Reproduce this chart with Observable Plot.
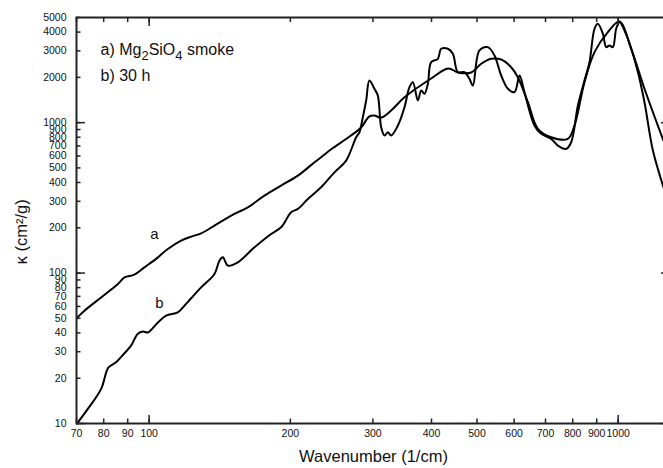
<!DOCTYPE html>
<html><head><meta charset="utf-8">
<script src="https://cdn.jsdelivr.net/npm/d3@7"></script>
<script src="https://cdn.jsdelivr.net/npm/@observablehq/plot@0.6"></script>
<style>
html,body{margin:0;padding:0;background:#fff;overflow:hidden;width:663px;height:468px;}
#chart svg{display:block;}
</style></head><body><div id="chart"></div>
<script>
// Curve a (upper at low wavenumber)
const waveA = [70.2, 72.8, 79.0, 85.8, 88.6, 93.0, 97.7, 104.4, 109.6, 117.0, 122.9, 129.1, 137.8, 152.0, 162.3, 176.1, 191.1, 207.6, 225.2, 232.6, 245.6, 265.7, 283.1, 294.5, 301.8, 312.4, 328.1, 349.8, 399.3, 434.0, 455.9, 485.9, 510.5, 536.2, 563.1, 591.4, 611.1, 642.0, 674.5, 719.7, 781.0, 807.0, 847.6, 890.4, 950.6, 1006, 1066, 1138, 1215, 1249];
const kappaA = [50.5, 56.2, 68.9, 84.6, 93.6, 97.6, 109.1, 127.2, 144.6, 164.3, 174.7, 183.7, 206.8, 247.4, 273.6, 327.3, 381.5, 444.6, 545.2, 588.8, 672.5, 795.9, 927.8, 1098, 1115, 1081, 1204, 1469, 1966, 2291, 2154, 2154, 2462, 2657, 2629, 2336, 2005, 1367, 909, 799.6, 780.2, 956.5, 1857, 2941, 3995, 4707, 3097, 1679, 956.5, 760];
// Curve b (30 h)
const waveB = [70.2, 74.0, 79.0, 81.9, 85.0, 88.4, 91.5, 94.6, 97.0, 99.4, 104.4, 108.7, 115.1, 118.9, 122.9, 129.1, 137.8, 141.2, 143.6, 147.2, 154.5, 167.7, 182.0, 191.1, 200.8, 207.6, 218.0, 232.6, 248.1, 263.0, 276.3, 280.8, 285.5, 290.2, 294.9, 302.2, 307.3, 312.4, 317.5, 322.8, 328.1, 339.1, 350.3, 358.9, 365.0, 374.1, 380.2, 386.4, 392.9, 399.3, 412.7, 419.4, 433.5, 444.2, 455.2, 470.2, 481.8, 490.0, 506.1, 527.4, 544.9, 563.1, 582.0, 601.2, 616.2, 631.2, 663.0, 685.2, 719.7, 743.7, 774.7, 794.0, 820.6, 847.6, 868.7, 890.4, 905.0, 927.8, 942.9, 958.2, 974.3, 990.2, 1006, 1049, 1102, 1138, 1186, 1250];
const kappaB = [10, 12.5, 17.0, 23.6, 25.5, 29.1, 32.9, 39.5, 40.9, 40.3, 47.0, 52.1, 54.8, 60.7, 68, 80.3, 98.6, 120.9, 127.2, 112.0, 117.8, 148.3, 182.0, 201.4, 253.5, 267.0, 311.2, 371.7, 465.6, 559.6, 799.6, 863.3, 1086, 1403, 1906, 1679, 1515, 932, 820.9, 863.3, 820.9, 956.5, 1266, 1720, 1857, 1403, 1636, 1555, 1813, 2523, 2657, 3097, 3097, 2869, 2164, 2164, 1956, 1766, 3018, 3176, 2795, 2058, 1679, 1594, 2058, 1594, 956.5, 842.5, 780.2, 704.2, 669.4, 740.6, 1299, 1906, 2523, 4208, 4544, 3898, 3176, 3258, 3176, 4208, 4656, 3611, 2164, 1367, 652.2, 370.1];

const xTickValues = [70, 80, 90, 100, 200, 300, 400, 500, 600, 700, 800, 900, 1000];
const xMajorTicks = [100, 1000];
const yTickValues = [10, 20, 30, 40, 50, 60, 70, 80, 90, 100, 200, 300, 400, 500, 600, 700, 800, 900, 1000, 2000, 3000, 4000, 5000];
const yMajorTicks = [10, 100, 1000];

const curveNames = ["a", "b"];
const curveLabelWave = [102.6, 105.2];
const curveLabelKappa = [182, 63.5];

const noteLine1 = "a) Mg2SiO4 smoke";
const noteLine2 = "b) 30 h";
const xTitle = "Wavenumber (1/cm)";
const yTitle = "κ (cm²/g)";
const yTitleAt = 188; // kappa level at the centre of the y title

const dataA = waveA.map((w, i) => ({w, k: kappaA[i]}));
const dataB = waveB.map((w, i) => ({w, k: kappaB[i]}));
const labels = curveNames.map((name, i) => ({name, w: curveLabelWave[i], k: curveLabelKappa[i]}));

const W = 663, H = 468, mL = 76, mR = -7, mT = 17, mB = 45;
const innerW = W - mL - mR, innerH = H - mT - mB;
const ink = "#111";

const chart = Plot.plot({
  width: W, height: H,
  marginLeft: mL, marginRight: mR, marginTop: mT, marginBottom: mB,
  style: {fontFamily: "'Liberation Sans', Arial, sans-serif", fontSize: "11px", background: "#fff", color: ink},
  x: {type: "log", domain: [70, 1293], label: null, axis: null},
  y: {type: "log", domain: [10, 5000], label: null, axis: null},
  marks: [
    Plot.line(dataA, {x: "w", y: "k", stroke: "#000", strokeWidth: 2, curve: "catmull-rom"}),
    Plot.line(dataB, {x: "w", y: "k", stroke: "#000", strokeWidth: 2, curve: "catmull-rom"}),
    Plot.frame({stroke: "#222", strokeWidth: 2}),
    // inward ticks, left
    Plot.tickY(yTickValues, {y: d => d, insetRight: innerW - 4.5, stroke: "#222", strokeWidth: 1.5}),
    Plot.tickY(yMajorTicks, {y: d => d, insetRight: innerW - 9, stroke: "#222", strokeWidth: 1.5}),
    // right major ticks
    Plot.tickY(yMajorTicks, {y: d => d, insetLeft: innerW - 9, stroke: "#222", strokeWidth: 1.5}),
    // bottom ticks
    Plot.tickX(xTickValues, {x: d => d, insetTop: innerH - 4.5, stroke: "#222", strokeWidth: 1.5}),
    Plot.tickX(xMajorTicks, {x: d => d, insetTop: innerH - 8, stroke: "#222", strokeWidth: 1.5}),
    // top ticks
    Plot.tickX(xTickValues, {x: d => d, insetBottom: innerH - 5, stroke: "#222", strokeWidth: 1.5}),
    Plot.tickX(xMajorTicks, {x: d => d, insetBottom: innerH - 9, stroke: "#222", strokeWidth: 1.5}),
    // tick labels
    Plot.text(yTickValues, {y: d => d, frameAnchor: "left", dx: -10, textAnchor: "end", text: d => String(d), fontSize: 10.5, fill: ink}),
    Plot.text(xTickValues, {x: d => d, frameAnchor: "bottom", dy: 13.5, text: d => String(d), fontSize: 10.5, fill: ink}),
    // titles
    Plot.text([xTitle], {frameAnchor: "bottom", text: d => d, dy: 38, fontSize: 16.5, fill: ink}),
    Plot.text([yTitle], {y: () => yTitleAt, frameAnchor: "left", textAnchor: "middle", text: d => d, rotate: -90, dx: -55, fontSize: 16.5, fill: ink}),
    Plot.text([noteLine1], {frameAnchor: "top-left", text: d => d, dx: 24, dy: 37.5, lineAnchor: "bottom", textAnchor: "start", fontSize: 16, fill: ink}),
    Plot.text([noteLine2], {frameAnchor: "top-left", text: d => d, dx: 24, dy: 63, lineAnchor: "bottom", textAnchor: "start", fontSize: 16, fill: ink}),
    Plot.text(labels, {x: "w", y: "k", text: "name", fontSize: 15, fill: ink})
  ]
});
document.getElementById("chart").appendChild(chart);

// subscripts in the formula
d3.select(chart).selectAll("text").each(function() {
  if (this.textContent === noteLine1) {
    const t = d3.select(this);
    t.text(null);
    const parts = [["a) Mg", 0], ["2", 1], ["SiO", 0], ["4", 1], [" smoke", 0]];
    let shifted = false;
    for (const [s, sub] of parts) {
      const sp = t.append("tspan").text(s);
      if (sub) { sp.attr("dy", 5).attr("font-size", 13); shifted = true; }
      else if (shifted) { sp.attr("dy", -5); shifted = false; }
    }
  }
});
</script></body></html>
